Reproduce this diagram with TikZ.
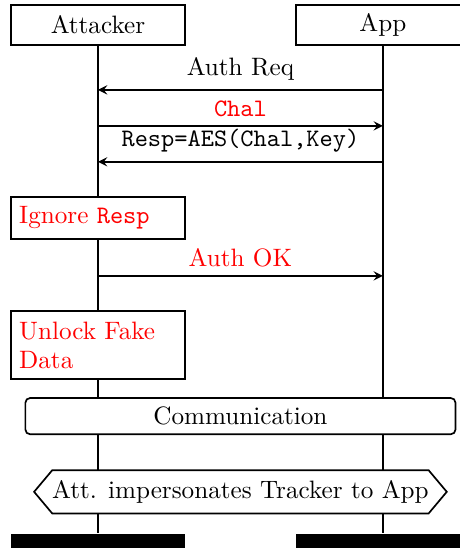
\documentclass[tikz,border=0pt]{standalone}
\usetikzlibrary{shapes.symbols}

\begin{document}
\fontsize{10.45pt}{12pt}\selectfont
\begin{tikzpicture}[line width=0.7pt,
		inst/.style={rectangle,draw,minimum width=2.54cm,minimum height=0.59cm},
		instend/.style={rectangle,fill=black,inner sep=0pt,minimum width=2.54cm,minimum height=0.3cm},
		action/.style={rectangle,draw,fill=white,text=red,align=left,inner xsep=3.3pt,text width=2.3cm},
		msg/.style={-stealth},
	]
			\clip (0,0) rectangle (6.715,-8);

			\node at (1.43,-0.365) [inst] (attacker) {Attacker};
			\node at (5.59,-0.365) [inst] (app)      {App};

			\node at (1.43,-7.95) [instend] (attacker_end) {};
			\node at (5.59,-7.95) [instend] (app_end)      {};

			% lifelines
			\draw (attacker) -- (attacker_end);
			\draw (app)      -- (app_end);

			\draw[msg] ([yshift=-0.64cm]app.south)       -- node[above] {Auth Req}                      ([yshift=-0.64cm]attacker.south);
			\draw[msg] ([yshift=-1.165cm]attacker.south) -- node[above] {\textcolor{red}{\texttt{Chal}}} ([yshift=-1.165cm]app.south);
			\draw[msg] ([yshift=-1.69cm]app.south)       -- node[above] {\texttt{Resp=AES(Chal,Key)}}   ([yshift=-1.69cm]attacker.south);

			\node at (1.43,-3.18) [action,minimum height=0.61cm] (ignore) {Ignore \texttt{Resp}};

			\draw[msg] ([yshift=-3.355cm]attacker.south) -- node[above,text=red] {Auth OK} ([yshift=-3.355cm]app.south);

			\node at (1.43,-5.04) [action,minimum height=0.99cm] (unlock) {Unlock Fake\\Data};

			\node at (3.51,-6.075) [rectangle,rounded corners=2pt,draw,fill=white,minimum width=6.28cm,minimum height=0.53cm] (comm) {Communication};

			\node at (3.51,-7.18) [signal,signal to=west and east,signal pointer angle=100,draw,fill=white,inner xsep=0pt,minimum height=0.63cm] (impersonate) {Att. impersonates Tracker to App};
		\end{tikzpicture}
\end{document}
